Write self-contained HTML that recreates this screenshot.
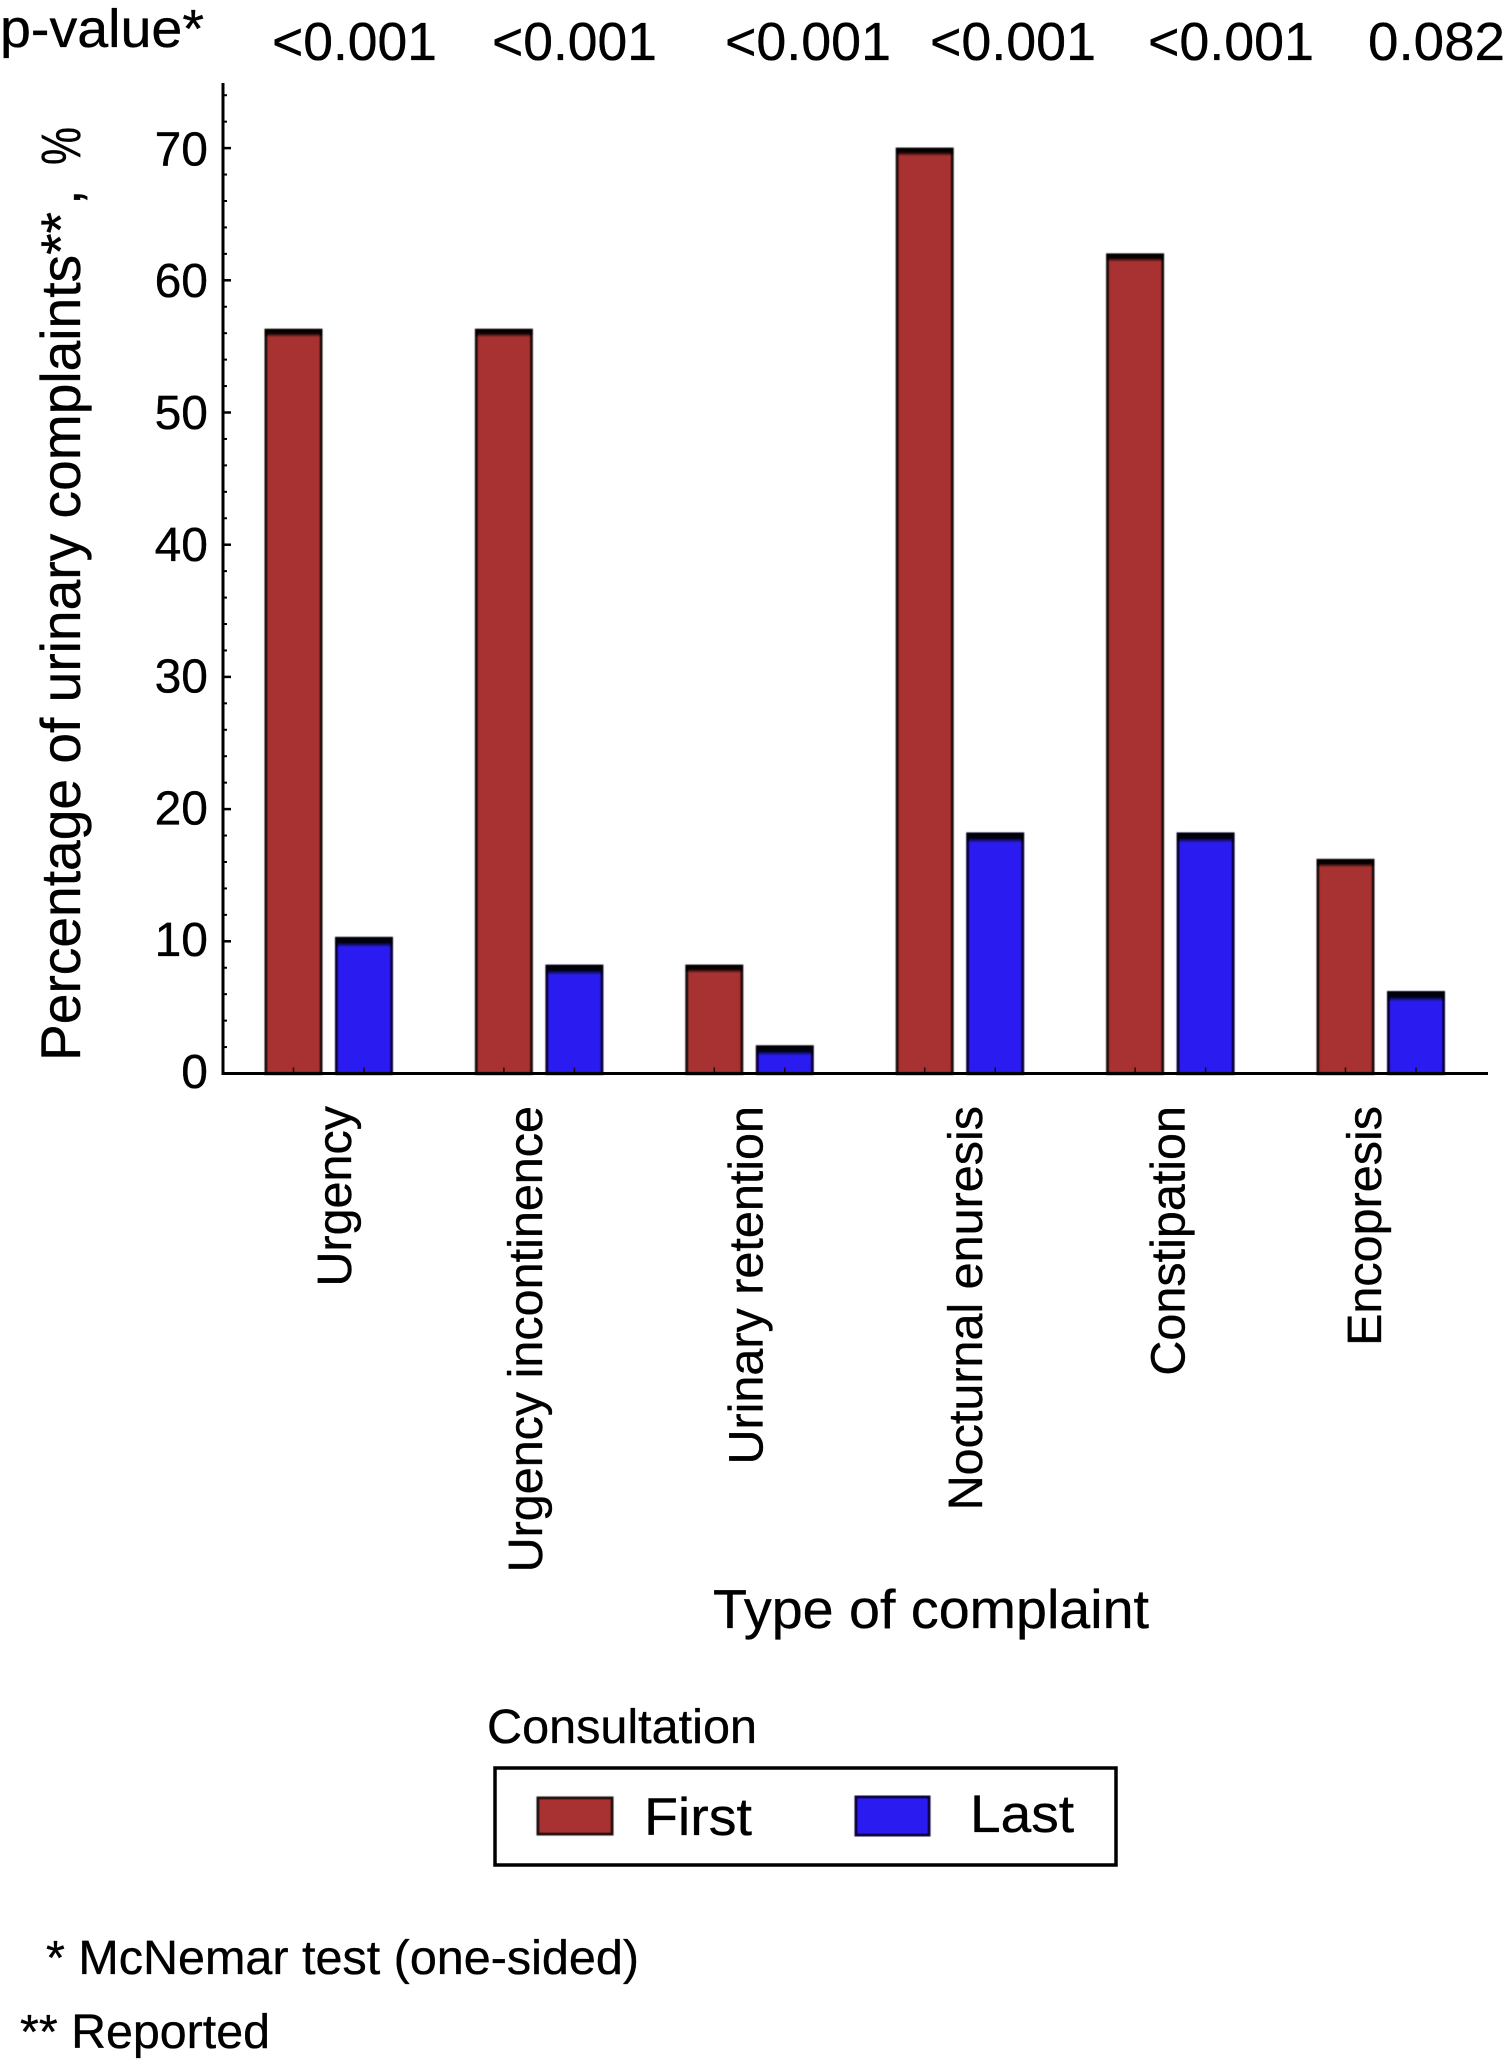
<!DOCTYPE html>
<html lang="en">
<head>
<meta charset="utf-8">
<title>Urinary complaints by consultation</title>
<style>
html,body{margin:0;padding:0;background:#fff;width:1506px;height:2060px;overflow:hidden}
svg{display:block}
text{font-family:"Liberation Sans",Arial,sans-serif;fill:#000;stroke:#000;stroke-width:.35px}
</style>
</head>
<body>
<svg id="chart" xmlns="http://www.w3.org/2000/svg" width="1506" height="2060" viewBox="0 0 1506 2060">
  <defs>
    <linearGradient id="band" x1="0" y1="0" x2="0" y2="1">
      <stop offset="0" stop-color="#000"/>
      <stop offset="0.55" stop-color="#000" stop-opacity="0.9"/>
      <stop offset="1" stop-color="#000" stop-opacity="0"/>
    </linearGradient>
    <filter id="soft" x="-5%" y="-5%" width="110%" height="110%"><feGaussianBlur stdDeviation="0.6"/></filter>
  </defs>
  <rect width="1506" height="2060" fill="#fff"/>

  <text x="0" y="47" font-size="54" textLength="204" lengthAdjust="spacingAndGlyphs">p-value*</text>
  <text x="272" y="60" font-size="54" textLength="165" lengthAdjust="spacingAndGlyphs">&lt;0.001</text>
  <text x="492" y="60" font-size="54" textLength="165" lengthAdjust="spacingAndGlyphs">&lt;0.001</text>
  <text x="725" y="60" font-size="54" textLength="166" lengthAdjust="spacingAndGlyphs">&lt;0.001</text>
  <text x="930" y="60" font-size="54" textLength="166" lengthAdjust="spacingAndGlyphs">&lt;0.001</text>
  <text x="1148" y="60" font-size="54" textLength="166" lengthAdjust="spacingAndGlyphs">&lt;0.001</text>
  <text x="1368" y="60" font-size="54" textLength="137" lengthAdjust="spacingAndGlyphs">0.082</text>

  <g>
    <text transform="translate(80,1061) rotate(-90)" font-size="56" textLength="849" lengthAdjust="spacingAndGlyphs">Percentage of urinary complaints**</text>
    <text transform="translate(80,205) rotate(-90)" font-size="56">,</text>
    <text transform="translate(80,165) rotate(-90)" font-size="56" textLength="38" lengthAdjust="spacingAndGlyphs">%</text>
  </g>
  <text x="713" y="1628" font-size="55" textLength="436" lengthAdjust="spacingAndGlyphs">Type of complaint</text>

  <g id="marks" filter="url(#soft)"></g>
  <g id="ticks"></g>
  <g id="labels"></g>

  <g>
    <text x="487" y="1743" font-size="48" textLength="270" lengthAdjust="spacingAndGlyphs">Consultation</text>
    <rect x="495" y="1768" width="621" height="97" fill="none" stroke="#000" stroke-width="3.5"/>
    <g filter="url(#soft)">
      <rect x="538" y="1798" width="74" height="36" fill="#a83333" stroke="#1e0c0c" stroke-width="3"/>
      <rect x="856" y="1797" width="73" height="38" fill="#2a1ff0" stroke="#07053a" stroke-width="3"/>
    </g>
    <text x="644" y="1835" font-size="53" textLength="108" lengthAdjust="spacingAndGlyphs">First</text>
    <text x="970" y="1832" font-size="53" textLength="104" lengthAdjust="spacingAndGlyphs">Last</text>
  </g>

  <text x="46" y="1974" font-size="48" textLength="593" lengthAdjust="spacingAndGlyphs">* McNemar test (one-sided)</text>
  <text x="20" y="2048" font-size="48" textLength="250" lengthAdjust="spacingAndGlyphs">** Reported</text>
</svg>
<script>
const categories = ["Urgency", "Urgency incontinence", "Urinary retention", "Nocturnal enuresis", "Constipation", "Encopresis"];
const firstValues = [56.3, 56.3, 8.2, 70, 62, 16.2];
const lastValues = [10.3, 8.2, 2.1, 18.2, 18.2, 6.2];
const yTickLabels = [0, 10, 20, 30, 40, 50, 60, 70];
const yMinorTicks = [2, 4, 6, 8, 12, 14, 16, 18, 22, 24, 26, 28, 32, 34, 36, 38, 42, 44, 46, 48, 52, 54, 56, 58, 62, 64, 66, 68, 72, 74];

const NS = "http://www.w3.org/2000/svg";
const marks = document.getElementById("marks");
const ticks = document.getElementById("ticks");
const labels = document.getElementById("labels");

function yScale(v) { return 1073.5 - v * 13.22; }
function yLabelBaseline(v) { return 1088 - v * 13.18; }
function groupX(i) { return 265 + i * 210.4; }
const BAR_W = 57, LAST_OFFSET = 70.5;
const categoryLabelShift = [22, 3, 13, 22, 14, 0];

function make(tag, attrs, parent) {
  const el = document.createElementNS(NS, tag);
  for (const k in attrs) el.setAttribute(k, attrs[k]);
  parent.appendChild(el);
  return el;
}

function drawBar(x, value, fill, stroke, bandHeight, name) {
  const top = yScale(value) + 1;
  const bar = make("rect", { x: x + 1, y: top, width: BAR_W - 2, height: yScale(0) - top, fill: fill, stroke: stroke, "stroke-width": 3 }, marks);
  
  
  const band = make("rect", { x: x, y: top - 1, width: BAR_W, height: bandHeight, fill: "url(#band)" }, marks);
  
  
  const tick = make("line", { x1: x + BAR_W / 2, x2: x + BAR_W / 2, y1: yScale(0) - 6, y2: yScale(0), stroke: "#1a0a0a", "stroke-width": 1.5 }, ticks);
  
  
}

categories.forEach(function (cat, i) {
  const slug = cat.toLowerCase().replace(/ /g, "-");
  drawBar(groupX(i), firstValues[i], "#a83333", "#1e0c0c", 8, "bar-first-" + slug);
  drawBar(groupX(i) + LAST_OFFSET, lastValues[i], "#2a1ff0", "#07053a", 10, "bar-last-" + slug);

  const cx = groupX(i) + (LAST_OFFSET + BAR_W) / 2 + categoryLabelShift[i];
  const t = make("text", { transform: "translate(" + cx + ",1106) rotate(-90)", "text-anchor": "end", "font-size": 48.5 }, labels);
  t.textContent = cat;
  
  
});

const yAxis = make("line", { x1: 223, x2: 223, y1: 83, y2: 1075, stroke: "#000", "stroke-width": 3 }, ticks);


const xAxis = make("line", { x1: 222, x2: 1488, y1: yScale(0), y2: yScale(0), stroke: "#000", "stroke-width": 3 }, ticks);



yMinorTicks.forEach(function (v) {
  const m = make("line", { x1: 223, x2: 227, y1: yScale(v), y2: yScale(v), stroke: "#000", "stroke-width": 2 }, ticks);
  
  
});

yTickLabels.forEach(function (v) {
  const m = make("line", { x1: 223, x2: 231, y1: yScale(v), y2: yScale(v), stroke: "#000", "stroke-width": 2.5 }, ticks);
  
  
  const t = make("text", { x: 208, y: yLabelBaseline(v), "text-anchor": "end", "font-size": 48 }, labels);
  t.textContent = v;
  
  
});
</script>
</body>
</html>
